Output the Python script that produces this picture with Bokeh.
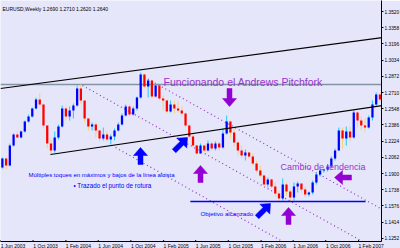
import math
import pandas as pd
from bokeh.plotting import figure
from bokeh.models import Range1d, FixedTicker, Label, PrintfTickFormatter
from bokeh.embed import file_html
from bokeh.resources import INLINE

# ---------------- data ----------------
chart_title = "EURUSD,Weekly  1.2690 1.2710 1.2620 1.2640"
first_open = 1.196
close = [1.205,1.198,1.218,1.229,1.226,1.232,1.242,1.247,1.255,1.264,
         1.259,1.238,1.220,1.213,1.226,1.237,1.255,1.247,1.253,1.258,
         1.275,1.263,1.245,1.237,1.239,1.233,1.225,1.229,1.224,1.227,
         1.233,1.239,1.248,1.257,1.249,1.255,1.266,1.289,1.277,1.283,
         1.267,1.278,1.265,1.263,1.252,1.259,1.255,1.253,1.250,1.238,
         1.227,1.218,1.210,1.218,1.213,1.220,1.215,1.220,1.216,1.230,
         1.242,1.231,1.221,1.213,1.208,1.211,1.207,1.200,1.193,1.188,
         1.179,1.184,1.177,1.170,1.165,1.179,1.172,1.166,1.177,1.180,
         1.174,1.169,1.171,1.181,1.189,1.193,1.194,1.197,1.205,1.213,
         1.233,1.225,1.232,1.226,1.251,1.243,1.238,1.236,1.246,1.259,
         1.269,1.264]
high = [1.206,1.206,1.220,1.230,1.232,1.233,1.243,1.249,1.256,1.266,
        1.270,1.260,1.238,1.224,1.232,1.239,1.258,1.257,1.257,1.260,
        1.278,1.279,1.263,1.245,1.241,1.241,1.233,1.236,1.232,1.229,
        1.235,1.241,1.250,1.259,1.259,1.257,1.267,1.291,1.290,1.284,
        1.284,1.280,1.278,1.268,1.264,1.263,1.263,1.262,1.257,1.251,
        1.239,1.230,1.219,1.220,1.219,1.223,1.222,1.222,1.222,1.235,
        1.248,1.243,1.235,1.223,1.218,1.214,1.212,1.210,1.203,1.198,
        1.189,1.186,1.185,1.181,1.173,1.185,1.181,1.174,1.181,1.182,
        1.180,1.177,1.172,1.183,1.191,1.195,1.195,1.199,1.207,1.215,
        1.236,1.236,1.237,1.237,1.253,1.252,1.247,1.245,1.248,1.263,
        1.271,1.271]
low = [1.195,1.194,1.197,1.217,1.225,1.225,1.231,1.241,1.246,1.254,
       1.257,1.235,1.215,1.209,1.211,1.224,1.236,1.243,1.243,1.245,
       1.257,1.259,1.241,1.233,1.233,1.226,1.222,1.223,1.222,1.219,
       1.223,1.232,1.238,1.247,1.247,1.248,1.253,1.265,1.275,1.266,
       1.265,1.266,1.263,1.253,1.250,1.251,1.250,1.251,1.247,1.236,
       1.225,1.216,1.209,1.210,1.211,1.212,1.213,1.213,1.213,1.215,
       1.229,1.225,1.217,1.208,1.205,1.203,1.205,1.198,1.191,1.186,
       1.177,1.176,1.175,1.167,1.162,1.163,1.168,1.162,1.163,1.171,
       1.171,1.166,1.167,1.169,1.179,1.187,1.191,1.192,1.195,1.203,
       1.213,1.215,1.218,1.222,1.225,1.236,1.233,1.231,1.235,1.243,
       1.257,1.262]
bar_dates = pd.date_range("2003-06-08", periods=len(close), freq="14D")

date_ticks = ["2003-06-01","2003-10-01","2004-02-01","2004-06-01","2004-10-01","2005-02-01",
              "2005-06-01","2005-10-01","2006-02-01","2006-06-01","2006-10-01","2007-02-01"]
date_labels = ["1 Jun 2003","1 Oct 2003","1 Feb 2004","1 Jun 2004","1 Oct 2004","1 Feb 2005",
               "1 Jun 2005","1 Oct 2005","1 Feb 2006","1 Jun 2006","1 Oct 2006","1 Feb 2007"]
price_ticks = [1.3520,1.3358,1.3196,1.3034,1.2872,1.2710,1.2548,1.2386,1.2224,1.2062,
               1.1900,1.1738,1.1576,1.1414,1.1252]
current_price = 1.2790
target_price = 1.1620
target_dates = ["2005-05-12", "2007-02-27"]

channel_top_x = ["2003-06-01", "2007-05-01"]; channel_top_y = [1.2750, 1.3260]
channel_mid_x = ["2003-12-05", "2007-05-01"]; channel_mid_y = [1.2090, 1.2580]
fork_median_x = ["2004-04-03", "2007-05-01"]; fork_median_y = [1.2780, 1.1110]
fork_upper_x = ["2004-11-21", "2007-05-01"]; fork_upper_y = [1.2863, 1.1540]
fork_lower_x = ["2004-08-05", "2006-06-21"]; fork_lower_y = [1.2160, 1.1130]

# ---------------- layout helpers ----------------
BG = "#E6E6FA"
FW, FH = 381, 241
X0 = pd.Timestamp("2003-06-01")
x0_ms = X0.value / 1e6
ms_per_px = 3.745 * 86400000
x1_ms = x0_ms + FW * ms_per_px
Y_TOP = 1.363
pr_per_px = 0.001
Y_BOT = Y_TOP - FH * pr_per_px

def X(px):
    return x0_ms + px * ms_per_px

def Y(py):
    return Y_TOP - py * pr_per_px

def ms(d):
    return pd.Timestamp(d).value / 1e6

p = figure(frame_width=FW, frame_height=FH, x_axis_type="datetime", y_axis_location="right",
           x_range=Range1d(x0_ms, x1_ms), y_range=Range1d(Y_BOT, Y_TOP),
           toolbar_location=None, output_backend="svg", min_border=0,
           background_fill_color=BG, border_fill_color=BG, outline_line_color=None)
p.grid.visible = False

# axes
ya = p.yaxis[0]
ya.ticker = FixedTicker(ticks=price_ticks)
ya.formatter = PrintfTickFormatter(format="%.4f")
ya.axis_line_color = "black"
ya.major_tick_out = 2
ya.major_tick_in = 0
ya.minor_tick_out = 0
ya.minor_tick_in = 0
ya.major_label_standoff = 1
ya.major_label_text_font = "Liberation Sans"
ya.major_label_text_font_size = "4.8px"
ya.major_label_text_color = "black"

xa = p.xaxis[0]
# MT4 prints the date to the right of its tick: centre each label half a label-width later
label_shift_px = 12.5
tick_pos = [int(ms(d) + label_shift_px * ms_per_px) for d in date_ticks]
xa.ticker = FixedTicker(ticks=tick_pos)
xa.major_label_overrides = {t: l for t, l in zip(tick_pos, date_labels)}
xa.axis_line_color = "black"
xa.major_tick_out = 0
xa.major_tick_in = 0
xa.minor_tick_out = 0
xa.minor_tick_in = 0
xa.major_label_standoff = 1
xa.major_label_text_align = "center"
xa.major_label_text_font = "Liberation Sans"
xa.major_label_text_font_size = "5px"
xa.major_label_text_color = "black"
p.segment(x0=[ms(d) for d in date_ticks], y0=[Y_BOT] * len(date_ticks),
          x1=[ms(d) for d in date_ticks], y1=[Y(FH - 1.5)] * len(date_ticks),
          line_color="black", line_width=1)

# horizontal price line
p.line([x0_ms, x1_ms], [current_price, current_price], line_color="#8494a4", line_width=1.3)

# pitchfork lines
purple = "#9932CC"
for xs_, ys_ in [(fork_median_x, fork_median_y), (fork_upper_x, fork_upper_y), (fork_lower_x, fork_lower_y)]:
    p.line([ms(d) for d in xs_], ys_, line_color=purple, line_width=1.2, line_dash="1 3")

# bars
opens = [first_open] + close[:-1]
up = [c >= o for o, c in zip(opens, close)]
wick_col = ["#22c8ff" if u else "#f2d27a" for u in up]
body_col = ["#0000ff" if u else "#ff0000" for u in up]
p.segment(x0=bar_dates, y0=low, x1=bar_dates, y1=high, line_color=wick_col, line_width=1)
p.vbar(x=bar_dates, bottom=[min(o, c) for o, c in zip(opens, close)],
       top=[max(o, c) for o, c in zip(opens, close)], width=8.5 * 86400000,
       fill_color=body_col, line_color=None)

for xs_, ys_ in [(channel_top_x, channel_top_y), (channel_mid_x, channel_mid_y)]:
    p.line([ms(d) for d in xs_], ys_, line_color="black", line_width=1.2)

# target line
p.line([ms(d) for d in target_dates], [target_price, target_price], line_color="#0000ff", line_width=1.5)

# block arrows
def arrow_poly(tx, ty, ang, length=17, head_w=14, head_h=8, shaft_w=5):
    pts = [(0, 0), (head_w / 2, head_h), (shaft_w / 2, head_h), (shaft_w / 2, length),
           (-shaft_w / 2, length), (-shaft_w / 2, head_h), (-head_w / 2, head_h)]
    a = math.radians(ang)
    xs_, ys_ = [], []
    for px_, py_ in pts:
        rx = px_ * math.cos(a) - py_ * math.sin(a)
        ry = px_ * math.sin(a) + py_ * math.cos(a)
        xs_.append(X(tx + rx))
        ys_.append(Y(ty + ry))
    return xs_, ys_

arrow_specs = [
    (140, 147, 0, 17, "#0000ff"),
    (187, 137, 45, 19, "#0000ff"),
    (200, 165, 0, 17, "#9400D3"),
    (229, 106, 180, 18, "#9400D3"),
    (270, 203, 45, 19, "#0000ff"),
    (288, 207, 0, 17, "#9400D3"),
    (334, 177, -90, 17, "#9400D3"),
]
axs, ays, acs = [], [], []
for tx, ty, ang, ln, col in arrow_specs:
    a_x, a_y = arrow_poly(tx, ty, ang, ln)
    axs.append(a_x); ays.append(a_y); acs.append(col)
p.patches(axs, ays, fill_color=acs, line_color=acs, line_width=0.5)

# texts
def add_label(px, py, txt, size, color, baseline="alphabetic", **kw):
    p.add_layout(Label(x=X(px), y=Y(py), text=txt, text_font="Liberation Sans",
                       text_font_size=size, text_color=color, text_baseline=baseline, **kw))

add_label(2, 8, chart_title, "5px", "black")
add_label(163, 81, "Funcionando el Andrews Pitchfork", "10.5px", purple)
add_label(280, 166, "Cambio de tendencia", "9px", purple)
add_label(28, 174, "Múltiples toques en máximos y bajos de la línea alcista", "6px", "#0000ff")
add_label(73, 185, "• Trazado el punto de rotura", "6.3px", "#0000ff")
add_label(200, 213, "Objetivo alcanzado", "6.2px", "#0000ff")
add_label(382.5, 84, "%.4f" % current_price, "4.8px", "white", baseline="middle",
          background_fill_color="black")

open("out.html", "w").write(file_html(p, INLINE))
